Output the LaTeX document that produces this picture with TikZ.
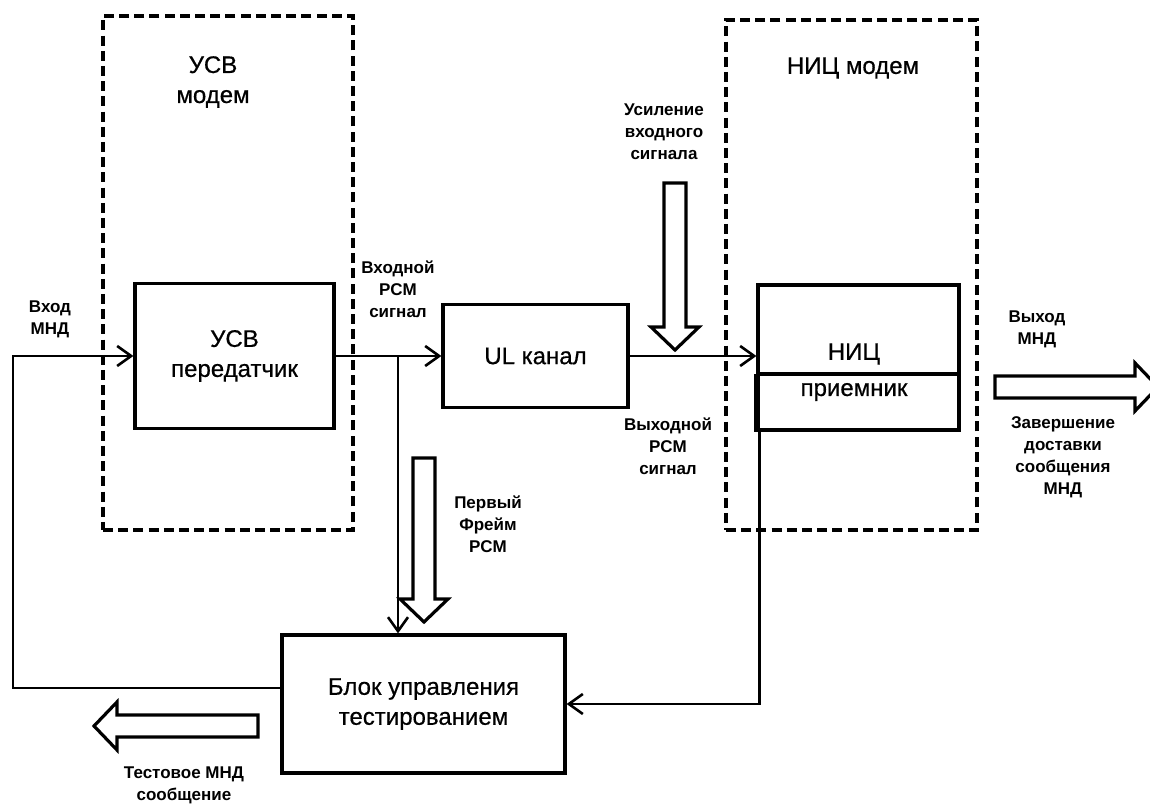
\documentclass[tikz,border=0pt]{standalone}
\usepackage{fontspec}
\setmainfont{Liberation Sans}
\newfontfamily\boxfont{Liberation Sans}[FakeBold=0.6]
\usetikzlibrary{arrows.meta}

\begin{document}
\begin{tikzpicture}[
        x=0.5pt, y=-0.5pt,
        >={Straight Barb[length=7pt,width=10pt]},
        block/.style={draw, line width=1.6pt, align=center, inner sep=0pt, font=\boxfont\fontsize{12}{15}\selectfont},
        modem/.style={draw, dash pattern=on 5pt off 2.6pt, line width=2pt, inner sep=0pt},
        title/.style={align=center, font=\boxfont\fontsize{12}{15}\selectfont},
        lbl/.style={align=center, font=\bfseries\fontsize{8.5}{11}\selectfont},
        arrow/.style={->, line width=1.3pt},
        fat/.style={draw, line width=1.6pt, fill=white},
        pics/fatarrow/.style={code={
            \draw[fat] (0,0) -- (-23,-24) -- (-23,-11) -- (-#1,-11) -- (-#1,11) -- (-23,11) -- (-23,24) -- cycle;
        }},
    ]
    \useasboundingbox (0,0) rectangle (1150,806);

    % модемы
    \node[modem, minimum width=125pt, minimum height=257pt] (usvmodem) at (228,273) {};
    \node[modem, minimum width=125.5pt, minimum height=255pt] (nicmodem) at (851.5,275) {};
    \node[title] (usvname) at (213,82) {УСВ\\модем};
    \node[title] (nicname) at (853,68) {НИЦ модем};

    % блоки
    \node[block, minimum width=99.5pt, minimum height=72.5pt] (usvtx) at (234.5,356) {УСВ\\передатчик};
    \node[block, minimum width=92.5pt, minimum height=51.5pt] (ul) at (535.5,356) {UL канал};
    \node[block, minimum width=100.5pt, minimum height=72.5pt] (nic) at (858.5,357.5) {};
    \node[block, minimum width=141.5pt, minimum height=69pt] (ctrl) at (423.5,704) {Блок управления\\тестированием};
    \draw[line width=1.6pt] ([yshift=-8.25pt]nic.west) -- ([yshift=-8.25pt]nic.east);
    \draw[line width=2.4pt] ([yshift=-8.25pt]nic.west) -- (nic.south west);
    \node[title] (nictitle) at (854,354) {НИЦ};
    \node[title] (nicrx) at (854,392) {приемник};

    % соединения
    \coordinate (inL) at (13,356);
    \coordinate (br) at (398,356);
    \draw[arrow] ([yshift=8pt]ctrl.west) -| (inL) -- (usvtx.west);
    \draw[arrow] (usvtx.east) -- (ul.west);
    \draw[arrow] (br) -- (br |- ctrl.north);
    \draw[arrow] (ul.east) -- (ul.east -| nic.west);
    \draw[arrow] ([xshift=1.5pt]nic.south west) |- (ctrl.east);

    % широкие стрелки
    \pic[rotate=-90] (gain) at (675,350) {fatarrow=167};
    \pic[rotate=-90] (frame) at (424,622) {fatarrow=164};
    \pic[rotate=180] (test) at (94,726) {fatarrow=164};
    \pic (out) at (1158,387) {fatarrow=163};

    % подписи
    \node[lbl] (inlbl) at (50,319) {Вход\\МНД};
    \node[lbl] (pcmin) at (398,289) {Входной\\PCM\\сигнал};
    \node[lbl] (gainlbl) at (664,132) {Усиление\\входного\\сигнала};
    \node[lbl] (pcmout) at (668,446) {Выходной\\PCM\\сигнал};
    \node[lbl] (framelbl) at (488,524) {Первый\\Фрейм\\PCM};
    \node[lbl] (outlbl) at (1037,329) {Выход\\МНД};
    \node[lbl] (donelbl) at (1063,457) {Завершение\\доставки\\сообщения\\МНД};
    \node[lbl] (testlbl) at (184,785) {Тестовое МНД\\сообщение};

\end{tikzpicture}
\end{document}
